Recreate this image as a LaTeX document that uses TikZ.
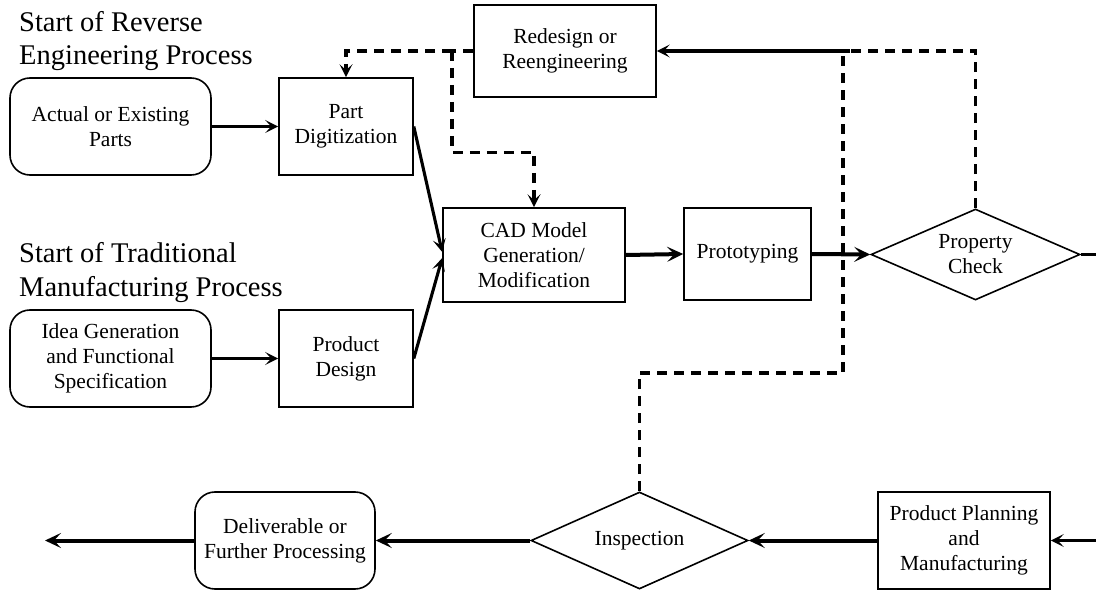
\documentclass[tikz,border=0pt]{standalone}
\usepackage{fontspec}
\setmainfont{Liberation Serif}
\usetikzlibrary{shapes.geometric,arrows.meta,calc}

\tikzset{
  every node/.style={font=\fontsize{21.5}{25}\selectfont, align=center, inner sep=0pt},
  procbox/.style={draw, line width=1.6pt, rectangle},
  roundbox/.style={draw, line width=1.6pt, rectangle, rounded corners=20pt},
  decision/.style={draw, line width=1.6pt, diamond},
  heading/.style={font=\fontsize{28.5}{33}\selectfont, anchor=base west, align=left},
  tip/.style={-{Stealth[length=13pt,width=13pt,inset=6pt]}},
  flow/.style={line width=3.1pt, tip},
  bigflow/.style={line width=4pt, -{Stealth[length=16pt,width=15pt,inset=7pt]}},
  feedback/.style={line width=3.1pt, dash pattern=on 10pt off 7pt},
}

\begin{document}
\begin{tikzpicture}[x=1pt, y=-1pt]
  \useasboundingbox (0,0) rectangle (1096,596);
  \clip (0,0) rectangle (1096,596);

  % section headings
  \node[heading] (h1a) at (19,32) {Start of Reverse};
  \node[heading] (h1b) at (19,65) {Engineering Process};
  \node[heading] (h2a) at (19,263) {Start of Traditional};
  \node[heading] (h2b) at (19,297) {Manufacturing Process};

  % process steps
  \node[roundbox, minimum width=201pt, minimum height=97pt] (act) at (110.5,126.5) {Actual or Existing\\Parts};
  \node[procbox, minimum width=134pt, minimum height=97pt] (pd) at (346,126.5) {Part\\Digitization};
  \node[roundbox, minimum width=201pt, minimum height=97pt] (idea) at (110.5,358.5) {Idea Generation\\and Functional\\Specification};
  \node[procbox, minimum width=134pt, minimum height=97pt] (prod) at (346,358.5) {Product\\Design};
  \node[procbox, minimum width=182pt, minimum height=94pt] (cad) at (534,255) {CAD Model\\Generation/\\Modification};
  \node[procbox, minimum width=127pt, minimum height=92pt] (proto) at (747.5,254) {Prototyping};
  \node[decision, shape aspect=2.3, minimum width=209pt, minimum height=91pt] (pc) at (975.5,254.5) {Property\\Check};
  \node[procbox, minimum width=182pt, minimum height=92pt] (red) at (565,51) {Redesign or\\Reengineering};
  \node[procbox, minimum width=172pt, minimum height=97pt] (ppm) at (964,540.5) {Product Planning\\and\\Manufacturing};
  \node[decision, shape aspect=2.24, minimum width=217pt, minimum height=97pt] (ins) at (639.5,540.5) {Inspection};
  \node[roundbox, minimum width=180pt, minimum height=97pt] (del) at (285,540.5) {Deliverable or\\Further Processing};

  % junction points of the feedback lines
  \coordinate (jn) at (850,51);
  \coordinate (ij) at (843,51);
  \coordinate (rs) at (452,51);
  \coordinate (out) at (45,540.5);

  % main flow
  \draw[flow] (act.east) -- (pd.west);
  \draw[flow] (idea.east) -- (prod.west);
  \draw[flow] (pd.east) -- ($(cad.west)+(0,-3)$);
  \draw[flow] (prod.east) -- ($(cad.west)+(0,3)$);
  \draw[bigflow] (cad.east) -- (proto.west);
  \draw[bigflow] (proto.east) -- (pc.west);
  \draw[flow] (pc.east) -- ++(40,0) |- (ppm.east);
  \draw[bigflow] (ppm.west) -- (ins.east);
  \draw[bigflow] (ins.west) -- (del.east);
  \draw[bigflow] (del.west) -- (out);

  % feedback loops
  \draw[feedback] (pc.north) |- (jn);
  \draw[feedback] (ins.north) |- (843,373) -- (ij);
  \draw[flow] (jn) -- (red.east);
  \draw[feedback] (red.west) -- (rs);
  \draw[feedback, tip] (rs) -| (pd.north);
  \draw[feedback, tip] (rs) |- ($(cad.north)+(0,-55)$) -- (cad.north);
\end{tikzpicture}
\end{document}
